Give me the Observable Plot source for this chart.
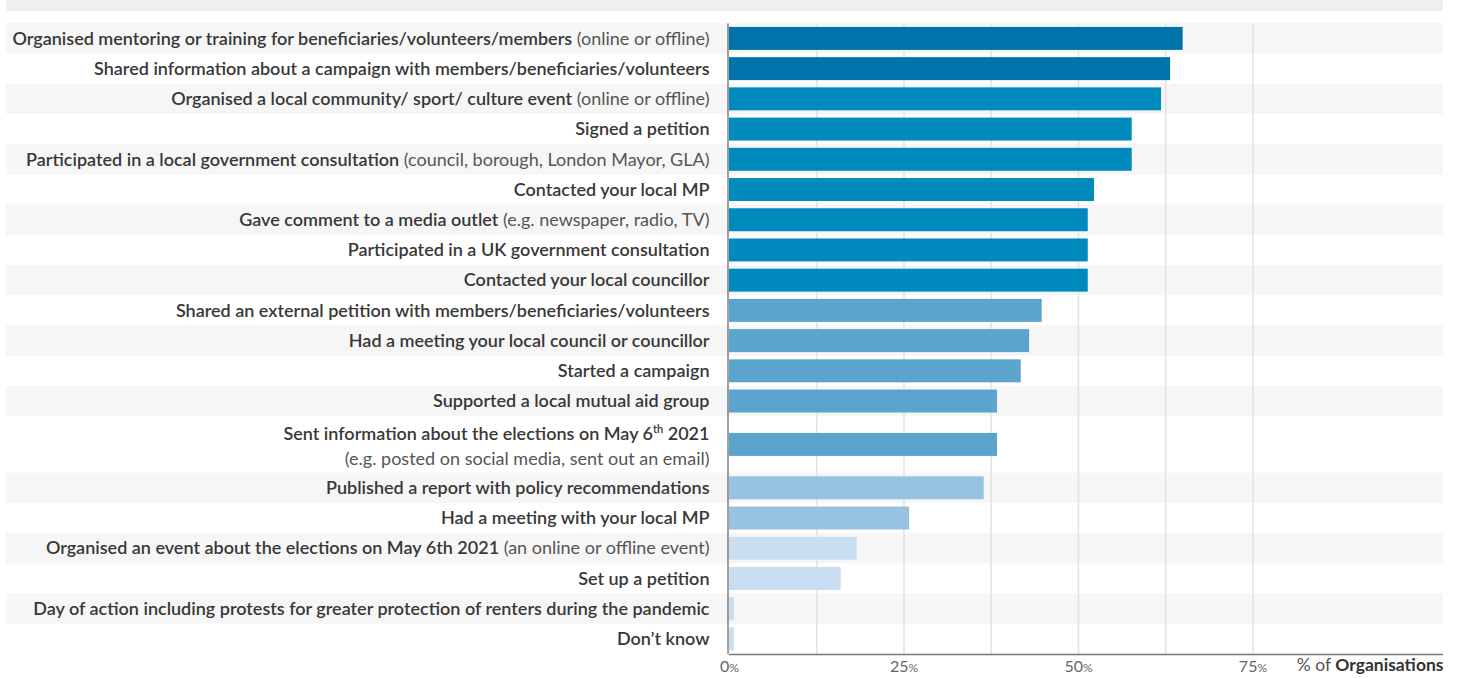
<!DOCTYPE html>
<html><head><meta charset="utf-8">
<script src="https://cdn.jsdelivr.net/npm/d3@7"></script>
<script src="https://cdn.jsdelivr.net/npm/@observablehq/plot@0.6"></script>
<style>
body{margin:0;background:#fff;font-family:Lato, sans-serif;}
#head{height:11px;margin-left:6px;width:1437px;background:#efefef;}
</style></head><body>
<div id="head"></div>
<div id="chart"></div>
<script>
const labels = [
  "Organised mentoring or training for beneficiaries/volunteers/members",
  "Shared information about a campaign with members/beneficiaries/volunteers",
  "Organised a local community/ sport/ culture event",
  "Signed a petition",
  "Participated in a local government consultation",
  "Contacted your local MP",
  "Gave comment to a media outlet",
  "Participated in a UK government consultation",
  "Contacted your local councillor",
  "Shared an external petition with members/beneficiaries/volunteers",
  "Had a meeting your local council or councillor",
  "Started a campaign",
  "Supported a local mutual aid group",
  "Sent information about the elections on May 6^th^ 2021",
  "Published a report with policy recommendations",
  "Had a meeting with your local MP",
  "Organised an event about the elections on May 6th 2021",
  "Set up a petition",
  "Day of action including protests for greater protection of renters during the pandemic",
  "Don\u2019t know"
];
const notes = [
  " (online or offline)",
  "",
  " (online or offline)",
  "",
  " (council, borough, London Mayor, GLA)",
  "",
  " (e.g. newspaper, radio, TV)",
  "",
  "",
  "",
  "",
  "",
  "",
  "\n(e.g. posted on social media, sent out an email)",
  "",
  "",
  " (an online or offline event)",
  "",
  "",
  ""
];
const values = [65.0, 63.2, 61.9, 57.7, 57.7, 52.3, 51.4, 51.4, 51.4, 44.8, 43.0, 41.8, 38.4, 38.4, 36.5, 25.8, 18.3, 16.0, 0.7, 0.7];
const xTicks = [0, 25, 50, 75];
const gridValues = [12.5, 25, 37.5, 50, 62.5, 75];
const colorThresholds = [25, 37.5, 50, 62.5];
const colorRange = ["#c9def0", "#97c2e1", "#5ba4cd", "#008abd", "#0074aa"];
const xMax = 102.3;
const axisTitle = ["% of ", "Organisations"];

// layout
const W = 1460, H = 667, mL = 729, mR = 17, mT = 12.3, mB = 24;
const tallRow = 1.87, barHalf = 0.38;
let acc = 0;
const rows = labels.map((label, i) => {
  const lines = notes[i].startsWith("\n") ? 2 : 1;
  const h = lines === 2 ? tallRow : 1;
  const r = {i, label, note: notes[i].replace("\n", ""), lines, value: values[i], top: acc, bottom: acc + h, center: acc + h / 2};
  acc += h;
  return r;
});
const total = acc;
const FONT = "Lato, sans-serif";

const svg = Plot.plot({
  width: W, height: H, marginLeft: mL, marginRight: mR, marginTop: mT, marginBottom: mB,
  style: {fontFamily: FONT, background: "transparent", overflow: "visible"},
  x: {domain: [0, xMax], axis: null},
  y: {domain: [0, total], reverse: true, axis: null},
  color: {type: "threshold", domain: colorThresholds, range: colorRange},
  marks: [
    Plot.rect(rows.filter(d => d.i % 2 === 0), {x1: 0, x2: xMax, y1: "top", y2: "bottom", fill: "#f6f6f6", insetLeft: -(mL - 6)}),
    Plot.ruleX(gridValues, {stroke: "#e3e3e3", strokeWidth: 1.5}),
    Plot.rect(rows, {x1: 0, x2: "value", y1: d => d.center - barHalf, y2: d => d.center + barHalf, fill: "value"}),
    Plot.ruleX([0], {stroke: "#444", strokeWidth: 1, dx: -1.5}),
    Plot.ruleY([total], {x1: 0, x2: xMax, stroke: "#777", strokeWidth: 1.3}),
    Plot.text(rows, {x: 0, y: "center", text: "label", textAnchor: "end", dx: -20, fontSize: 18, fontWeight: 600, fill: "#383838"}),
    Plot.text(xTicks, {x: d => d, text: d => String(d), frameAnchor: "bottom", dy: 17, fontSize: 16, fill: "#666"}),
    Plot.text([axisTitle], {text: d => d[0], frameAnchor: "bottom-right", textAnchor: "end", dy: 16, fontSize: 17.5, fill: "#333"})
  ]
});
document.getElementById("chart").appendChild(svg);

const NS = "http://www.w3.org/2000/svg";
function ts(txt, attrs) {
  const s = document.createElementNS(NS, "tspan");
  s.textContent = txt;
  for (const k in attrs) s.setAttribute(k, attrs[k]);
  return s;
}
const textGroups = [...svg.querySelectorAll("g")].filter(g => g.querySelector(":scope > text"));
const [labelG, tickG, titleG] = textGroups;
labelG.querySelectorAll("text").forEach((t, j) => {
  const d = rows[j];
  const tx = t.getAttribute("x") || 0;
  t.textContent = "";
  const parts = d.label.split("^");
  parts.forEach((p, k) => {
    if (!p) return;
    const a = {};
    if (k % 2 === 1) { a["font-size"] = 11; a.dy = -7; }
    else if (k > 0) a.dy = 7;
    if (k === 0 && d.lines === 2) a.dy = -10.5;
    t.appendChild(ts(p, a));
  });
  if (d.note) {
    const a = {"font-weight": 400, fill: "#555"};
    if (d.lines === 2) { a.x = tx; a.dy = 25; }
    t.appendChild(ts(d.note, a));
  }
});
tickG.querySelectorAll("text").forEach(t => {
  t.appendChild(ts("%", {"font-size": 12}));
});
titleG.querySelectorAll("text").forEach(t => {
  t.textContent = "";
  t.appendChild(ts(axisTitle[0], {"font-weight": 400, fill: "#555"}));
  t.appendChild(ts(axisTitle[1], {"font-weight": 700}));
});
</script>
</body></html>
